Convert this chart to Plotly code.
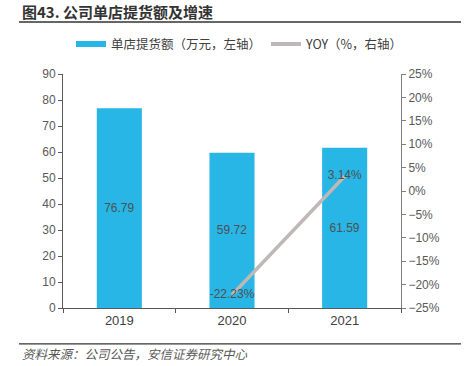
import plotly.graph_objects as go

years = ["2019", "2020", "2021"]
sales = [76.79, 59.72, 61.59]
yoy_years = ["2020", "2021"]
yoy = [-22.23, 3.14]
bar_name = "单店提货额（万元，左轴）"
line_name = "YOY（%，右轴）"
title_text = "图43. 公司单店提货额及增速"
source_text = "资料来源：公司公告，安信证券研究中心"

BLUE = "#27B6E6"
GRAY_LINE = "#BFB8B6"
TXT = "#595959"
CJK = "Noto Sans CJK SC"
LAT = "Liberation Sans, Arial"

fig = go.Figure()
fig.add_trace(go.Bar(
    x=years, y=sales, marker=dict(color=BLUE, line=dict(width=0)),
    text=[f"{v:.2f}" for v in sales], textposition="inside", insidetextanchor="middle",
    textfont=dict(color="#505050", size=12, family=LAT),
    showlegend=False, yaxis="y", cliponaxis=False,
))
fig.add_trace(go.Scatter(
    x=yoy_years, y=yoy, mode="lines+text", yaxis="y2",
    line=dict(color=GRAY_LINE, width=3.5),
    text=[f"{v:.2f}%" for v in yoy], textposition="middle center",
    textfont=dict(color="#505050", size=12, family=LAT),
    showlegend=False, cliponaxis=False,
))
# legend entries
fig.add_trace(go.Scatter(x=[None], y=[None], mode="lines", name=bar_name,
                         line=dict(color=BLUE, width=6)))
fig.add_trace(go.Scatter(x=[None], y=[None], mode="lines", name=line_name,
                         line=dict(color=GRAY_LINE, width=4), yaxis="y2"))

W, H = 465, 366
L, R, T, B = 63, 401, 73.7, 308.5
pw, ph = R - L, B - T
def px(x): return (x - L) / pw
def py(y): return (B - y) / ph

fig.update_layout(
    width=W, height=H,
    margin=dict(l=L, r=W - R, t=T, b=H - B),
    paper_bgcolor="white", plot_bgcolor="white",
    bargap=0.6,
    font=dict(family=LAT, color=TXT),
    showlegend=True,
    legend=dict(orientation="h", x=px(240), xanchor="center", y=py(44), yanchor="middle",
                font=dict(family=CJK, size=12.5, color="#404040"), itemwidth=30,
                tracegroupgap=0),
    xaxis=dict(type="category", showline=True, linecolor="#595959", linewidth=1,
               ticks="outside", ticklen=4, tickcolor="#595959", tickson="boundaries",
               tickfont=dict(size=13, color="#404040", family=LAT), showgrid=False),
    yaxis=dict(range=[0, 90], dtick=10, showline=True, linecolor="#595959", linewidth=1,
               ticks="outside", ticklen=4, tickcolor="#595959", showgrid=False,
               tickfont=dict(size=12, color=TXT, family=LAT), zeroline=False),
    yaxis2=dict(range=[-25, 25], dtick=5, overlaying="y", side="right", showline=True,
                linecolor="#7F7F7F", linewidth=1, ticks="outside", ticklen=4,
                tickcolor="#7F7F7F", showgrid=False, ticksuffix="%",
                tickfont=dict(size=12, color=TXT, family=LAT), zeroline=False),
    annotations=[
        dict(text="<b>" + title_text + "</b>", xref="paper", yref="paper",
             x=px(20), y=py(10.5), xanchor="left", yanchor="middle", showarrow=False,
             font=dict(family=CJK, size=15, color="#333333")),
        dict(text="<i>" + source_text + "</i>", xref="paper", yref="paper",
             x=px(20), y=py(354), xanchor="left", yanchor="middle", showarrow=False,
             font=dict(family=CJK, size=12.5, color="#595959")),
    ],
    shapes=[
        dict(type="line", xref="paper", yref="paper", x0=px(19), x1=px(461),
             y0=py(21.5), y1=py(21.5), line=dict(color="#333333", width=1.5)),
        dict(type="line", xref="paper", yref="paper", x0=px(19), x1=px(461),
             y0=py(344.5), y1=py(344.5), line=dict(color="#333333", width=1.2)),
    ],
)

fig.write_html("out.html", config={"displayModeBar": False},
               post_script="document.body.style.margin='0';document.body.style.overflow='hidden';")
